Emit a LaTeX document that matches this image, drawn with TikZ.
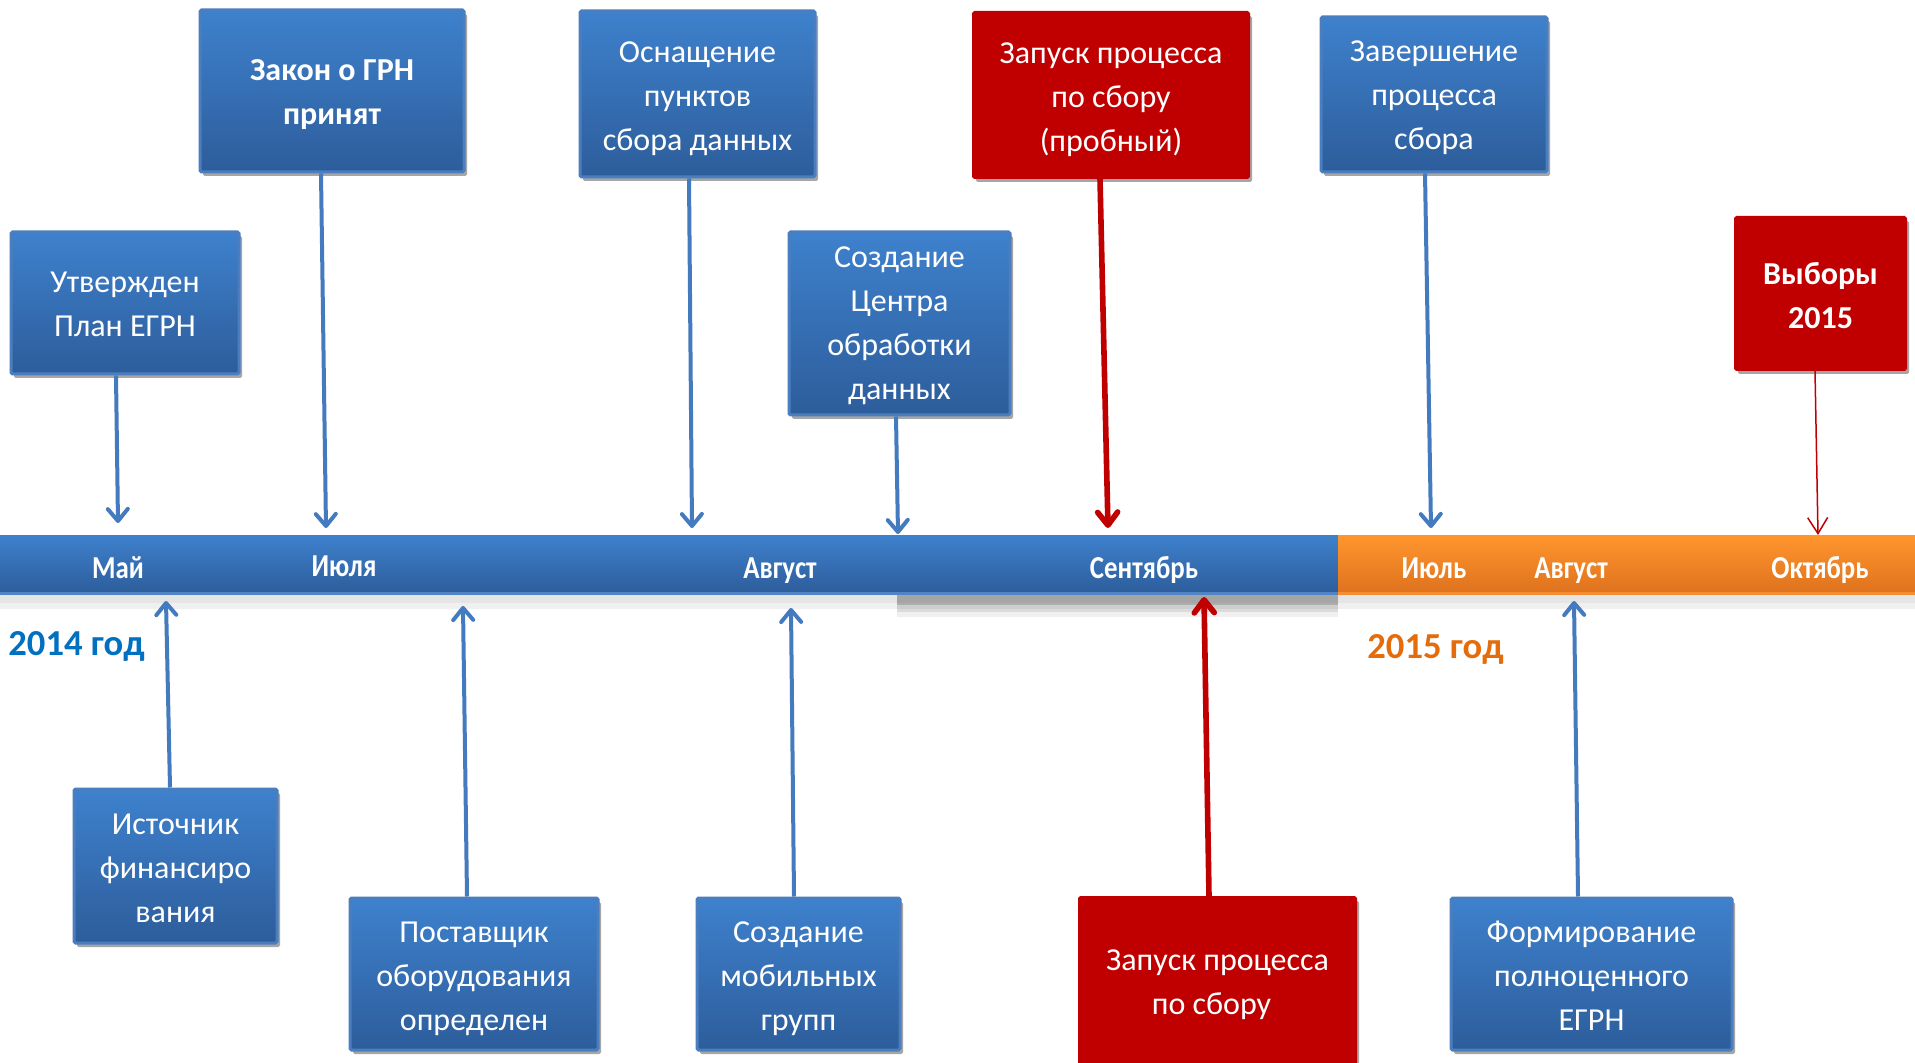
\documentclass[tikz,border=0pt]{standalone}
\usepackage{fontspec}
\setmainfont{Carlito}
\newfontfamily\condfont[FakeStretch=0.84]{Carlito}
\usetikzlibrary{arrows.meta,shadows}
\definecolor{btop}{RGB}{62,129,205}
\definecolor{bbot}{RGB}{45,93,155}
\definecolor{bborder}{RGB}{74,126,190}
\definecolor{barrow}{RGB}{68,122,190}
\definecolor{dred}{RGB}{192,0,0}
\definecolor{otop}{RGB}{255,150,45}
\definecolor{obot}{RGB}{222,114,30}
\definecolor{oedge}{RGB}{247,140,50}
\definecolor{bedge}{RGB}{80,132,196}
\definecolor{yblue}{RGB}{0,112,192}
\definecolor{yorange}{RGB}{228,108,10}
\begin{document}
\begin{tikzpicture}[x=0.5pt,y=-0.5pt,
  boxshadow/.style={drop shadow={shadow xshift=1.5pt,shadow yshift=-2pt,opacity=0.35,fill=black}},
  blbox/.style={draw=bborder,line width=1.5pt,top color=btop,bottom color=bbot,
    inner sep=0pt,rounded corners=0.8pt,boxshadow},
  rdbox/.style={draw=dred,line width=1pt,fill=dred,
    inner sep=0pt,rounded corners=0.8pt,boxshadow},
  boxtxt/.style={text=white,align=center,inner sep=0pt,font=\fontsize{16}{22}\selectfont},
  boldtxt/.style={boxtxt,font=\fontsize{16}{22}\selectfont\bfseries},
  month/.style={text=white,anchor=base,inner sep=0pt,
    font=\condfont\bfseries\fontsize{16}{19}\selectfont},
  yearlbl/.style={anchor=base west,inner sep=0pt,font=\fontsize{18.3}{22}\selectfont\bfseries},
  blarrow/.style={draw=barrow,line width=2pt,-{Straight Barb[length=6pt,width=10pt,round]}},
  rdarrow/.style={draw=dred,line width=2.8pt,-{Straight Barb[length=6.5pt,width=10pt,round]}},
  rdthin/.style={draw=dred,line width=0.75pt,-{Straight Barb[length=8pt,width=10pt]}},
  barnode/.style={inner sep=0pt,minimum height=29pt}
]
\useasboundingbox (0,0) rectangle (1915,1063);
% bar shadows
\fill[black,opacity=0.10] (0,593) rectangle (1915,603);
\fill[black,opacity=0.06] (0,603) rectangle (1915,609);
\fill[black,opacity=0.28] (897,593) rectangle (1338,605);
\fill[black,opacity=0.14] (897,605) rectangle (1338,612);
\fill[black,opacity=0.06] (897,612) rectangle (1338,617);
% timeline bar
\node[barnode,top color=btop,bottom color=bbot,minimum width=669pt] (barb) at (669,564) {};
\node[barnode,top color=otop,bottom color=obot,minimum width=288.5pt] (baro) at (1626.5,564) {};
\draw[bedge,line width=1.2pt] (barb.south west) -- (barb.south east);
\draw[oedge,line width=1.2pt] (baro.south west) -- (baro.south east);
% month labels
\node[month] (m1) at (118,578) {Май};
\node[month] (m2) at (344,576) {Июля};
\node[month] (m3) at (780,578) {Август};
\node[month] (m4) at (1144,578) {Сентябрь};
\node[month] (m5) at (1434,578) {Июль};
\node[month] (m6) at (1571,578) {Август};
\node[month] (m7) at (1820,578) {Октябрь};
% year labels
\node[yearlbl,text=yblue] (y1) at (8,655) {2014 год};
\node[yearlbl,text=yorange] (y2) at (1367,658) {2015 год};
% top boxes
\node[blbox,minimum width=114pt,minimum height=71pt] (b1) at (125,303) {};
\node[blbox,minimum width=132pt,minimum height=81pt] (b2) at (332,91) {};
\node[blbox,minimum width=117.5pt,minimum height=83pt] (b3) at (697.5,94) {};
\node[blbox,minimum width=110.5pt,minimum height=91.5pt] (b4) at (899.5,323.5) {};
\node[rdbox,minimum width=138pt,minimum height=83pt] (b5) at (1111,95) {};
\node[blbox,minimum width=113pt,minimum height=77.5pt] (b6) at (1434,94.5) {};
\node[rdbox,minimum width=85.5pt,minimum height=76.5pt] (b7) at (1820.5,293.5) {};
% bottom boxes
\node[blbox,minimum width=101.5pt,minimum height=77pt] (b8) at (175.5,866) {};
\node[blbox,minimum width=124pt,minimum height=76pt] (b9) at (474,974) {};
\node[blbox,minimum width=101.5pt,minimum height=76pt] (b10) at (798.5,974) {};
\node[rdbox,minimum width=138.5pt,minimum height=85.5pt] (b11) at (1217.5,982.5) {};
\node[blbox,minimum width=140.5pt,minimum height=76pt] (b12) at (1591.5,974) {};
% box texts
\node[boxtxt] (l1) at ([yshift=-0.8pt]b1.center) {Утвержден\\План ЕГРН};
\node[boldtxt] (l2) at ([yshift=-1.8pt]b2.center) {Закон о ГРН\\принят};
\node[boxtxt] (l3) at ([yshift=-2.4pt]b3.center) {Оснащение\\пунктов\\сбора данных};
\node[boxtxt] (l4) at ([yshift=-1.2pt]b4.center) {Создание\\Центра\\обработки\\данных};
\node[boxtxt] (l5) at ([yshift=-2.4pt]b5.center) {Запуск процесса\\по сбору\\(пробный)};
\node[boxtxt] (l6) at ([yshift=-1.8pt]b6.center) {Завершение\\процесса\\сбора};
\node[boldtxt] (l7) at ([yshift=-0.8pt]b7.center) {Выборы\\2015};
\node[boxtxt] (l8) at ([yshift=-1.2pt]b8.center) {Источник\\финансиро\\вания};
\node[boxtxt] (l9) at ([yshift=-2.4pt]b9.center) {Поставщик\\оборудования\\определен};
\node[boxtxt] (l10) at ([yshift=-2.4pt]b10.center) {Создание\\мобильных\\групп};
\node[boxtxt] (l11) at ([yshift=-1.2pt]b11.center) {Запуск процесса\\по сбору\hspace*{6pt}};
\node[boxtxt] (l12) at ([yshift=-0.8pt]b12.center) {Формирование\\полноценного\\ЕГРН};
% arrow targets on the bar
\coordinate (t1) at (118,523);
\coordinate (t2) at (326,528);
\coordinate (t3) at (692,528);
\coordinate (t4) at (898,534);
\coordinate (t5) at (1108,528);
\coordinate (t6) at (1431,528);
\coordinate (t7) at (1818,535);
\coordinate (t8) at (166,601);
\coordinate (t9) at (463,606);
\coordinate (t10) at (791,608);
\coordinate (t11) at (1204,597);
\coordinate (t12) at (1574,601);
% connectors
\draw[blarrow] ([xshift=-4.5pt]b1.south) -- (t1);
\draw[blarrow] ([xshift=-5.5pt]b2.south) -- (t2);
\draw[blarrow] ([xshift=-4.25pt]b3.south) -- (t3);
\draw[blarrow] ([xshift=-1.75pt]b4.south) -- (t4);
\draw[rdarrow] ([xshift=-5.5pt]b5.south) -- (t5);
\draw[blarrow] ([xshift=-4.5pt]b6.south) -- (t6);
\draw[rdthin] ([xshift=-2.75pt]b7.south) -- (t7);
\draw[blarrow] ([xshift=-2.75pt]b8.north) -- (t8);
\draw[blarrow] ([xshift=-3.5pt]b9.north) -- (t9);
\draw[blarrow] ([xshift=-2.25pt]b10.north) -- (t10);
\draw[rdarrow] ([xshift=-4.25pt]b11.north) -- (t11);
\draw[blarrow] ([xshift=-6.75pt]b12.north) -- (t12);
\end{tikzpicture}
\end{document}
